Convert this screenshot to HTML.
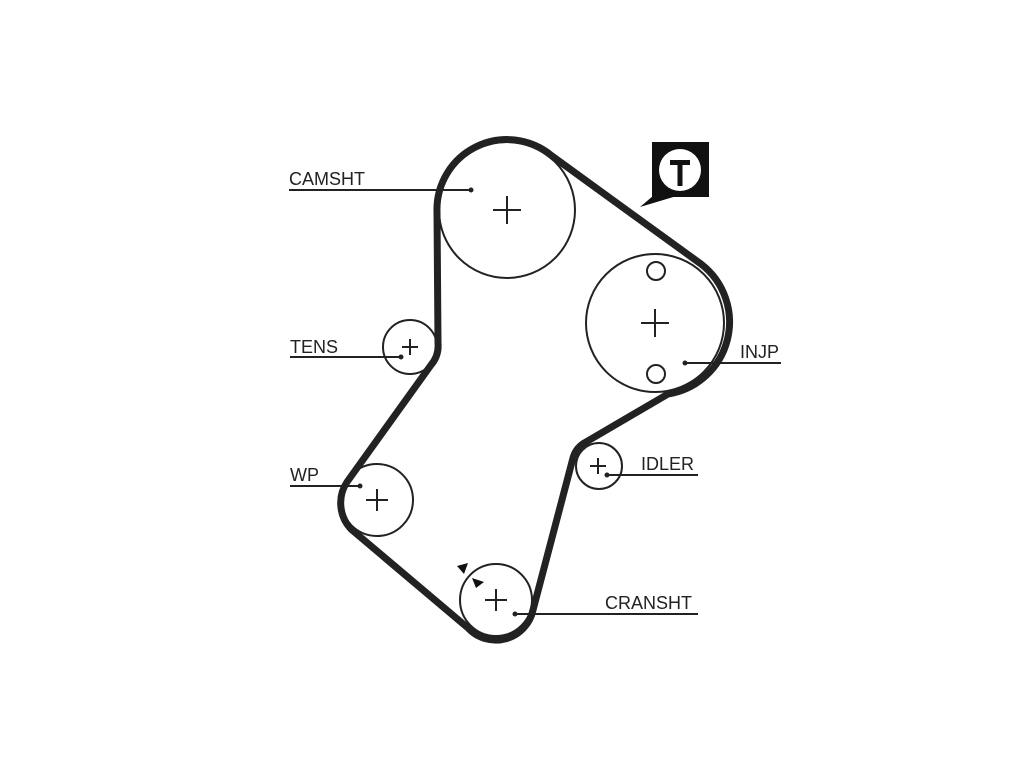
<!DOCTYPE html>
<html><head><meta charset="utf-8"><style>
html,body{margin:0;padding:0;background:#fff}
svg{display:block}
text{font-family:"Liberation Sans",sans-serif;font-size:18px;fill:#222}
</style></head><body>
<svg width="1024" height="768" viewBox="0 0 1024 768" xmlns="http://www.w3.org/2000/svg">
<g fill="none" stroke="#222" stroke-width="2">
<circle cx="507" cy="210" r="68"/>
<circle cx="655" cy="323" r="69"/>
<circle cx="656" cy="271" r="9"/>
<circle cx="656" cy="374" r="9"/>
<circle cx="410" cy="347" r="27"/>
<circle cx="377" cy="500" r="36"/>
<circle cx="496" cy="600" r="36"/>
<circle cx="599" cy="466" r="23"/>
</g>
<g stroke="#222" stroke-width="2">
<path d="M493 210h28M507 196v28"/>
<path d="M641 323h28M655 309v28"/>
<path d="M402 347h16M410 339v16"/>
<path d="M366 500h22M377 489v22"/>
<path d="M485 600h22M496 589v22"/>
<path d="M590 466h16M598 458v16"/>
</g>
<path d="M437 212 A70 70 0 0 1 552 156 L701 264 A73 73 0 0 1 668 394 L586 442 A26 26 0 0 0 573 458 L533 610 A38 38 0 0 1 468 628 L352 530 A38 38 0 0 1 347 482 L431 365 A30 30 0 0 0 438 343 Z" fill="none" stroke="#222" stroke-width="7" stroke-linejoin="round"/>
<g stroke="#222" stroke-width="2">
<line x1="289" y1="190" x2="471" y2="190"/>
<line x1="290" y1="357" x2="401" y2="357"/>
<line x1="290" y1="486" x2="360" y2="486"/>
<line x1="685" y1="363" x2="781" y2="363"/>
<line x1="607" y1="475" x2="698" y2="475"/>
<line x1="515" y1="614" x2="698" y2="614"/>
</g>
<g fill="#222">
<circle cx="471" cy="190" r="2.5"/><circle cx="401" cy="357" r="2.5"/><circle cx="360" cy="486" r="2.5"/>
<circle cx="685" cy="363" r="2.5"/><circle cx="607" cy="475" r="2.5"/><circle cx="515" cy="614" r="2.5"/>
</g>
<text x="289" y="185">CAMSHT</text>
<text x="290" y="353">TENS</text>
<text x="290" y="481">WP</text>
<text x="740" y="358">INJP</text>
<text x="641" y="470">IDLER</text>
<text x="605" y="609">CRANSHT</text>
<rect x="652" y="142" width="57" height="55" fill="#111"/>
<path d="M660 190 L640 207 L680 195 Z" fill="#111"/>
<circle cx="680" cy="170" r="21" fill="#fff"/>
<path d="M670 160h20v5h-7.5v21h-5v-21h-7.5z" fill="#111"/>
<path d="M457 566 L468 563 L464 574 Z" fill="#111"/>
<path d="M472 578 L484 582 L476 588 Z" fill="#111"/>
</svg>
</body></html>
